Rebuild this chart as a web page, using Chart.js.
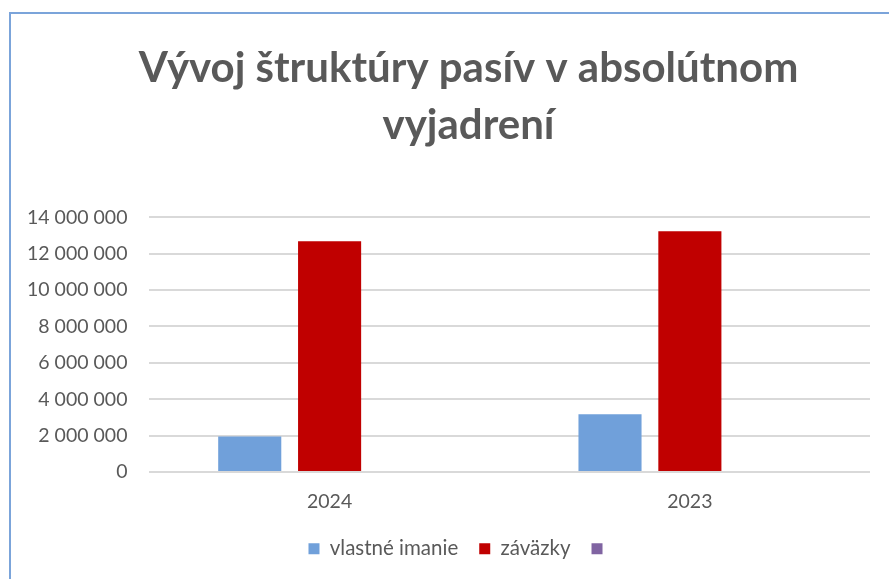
<!DOCTYPE html>
<html>
<head>
<meta charset="utf-8">
<script src="https://cdn.jsdelivr.net/npm/chart.js@4/dist/chart.umd.min.js"></script>
<style>
  html, body { margin: 0; padding: 0; background: #fff; overflow: hidden; }
  #frame {
    position: absolute; left: 9px; top: 12px; width: 900px; height: 600px;
    border-left: 2px solid #7ba4da; border-top: 2px solid #7ba4da;
  }
  #wrap { position: absolute; left: 0; top: 0; width: 998px; height: 579px; }
</style>
</head>
<body>
<div id="frame"></div>
<div id="wrap"><canvas id="chart"></canvas></div>
<script>
const categories = ["2024", "2023"]
const equity = [1950000, 3180000]
const liabilities = [12680000, 13230000]
const other = [null, null]
const seriesNames = ["vlastné imanie", "záväzky", ""]
const titleLines = ["Vývoj štruktúry pasív v absolútnom", "vyjadrení"]

const colors = {
    blue: "#70a0da",
    red: "#c00000",
    purple: "#8064a2",
    text: "#595959",
    grid: "#d9d9d9",
}

const fmt = (v) => String(v).replace(/\B(?=(\d{3})+(?!\d))/g, " ")

const ctx = document.getElementById("chart").getContext("2d")
new Chart(ctx, {
    type: "bar",
    data: {
        labels: categories,
        datasets: [
            { label: seriesNames[0], data: equity, backgroundColor: colors.blue },
            { label: seriesNames[1], data: liabilities, backgroundColor: colors.red },
            { label: seriesNames[2], data: other, backgroundColor: colors.purple },
        ],
    },
    options: {
        responsive: true,
        maintainAspectRatio: false,
        animation: false,
        datasets: {
            bar: { categoryPercentage: 0.665, barPercentage: 0.79 },
        },
        layout: { padding: { left: 5, right: 66, top: 40, bottom: 10 } },
        plugins: {
            title: {
                display: true,
                text: titleLines,
                color: colors.text,
                font: { family: "Lato", size: 42, weight: "bold", lineHeight: 1.36 },
                padding: { top: 0, bottom: 63 },
            },
            legend: {
                position: "bottom",
                labels: {
                    color: colors.text,
                    font: { family: "Lato", size: 20.5 },
                    boxWidth: 11,
                    boxHeight: 11,
                    padding: 21,
                    generateLabels: (chart) => {
                        const items = Chart.defaults.plugins.legend.labels.generateLabels(chart)
                        items[2].text = "   "
                        return items
                    },
                },
            },
            tooltip: { enabled: false },
        },
        scales: {
            x: {
                afterFit: (scale) => { scale.height -= 6 },
                grid: { display: false },
                border: { display: false },
                ticks: { color: colors.text, font: { family: "Lato", size: 19.5 }, padding: 10 },
            },
            y: {
                min: 0,
                max: 14000000,
                grid: { color: colors.grid, lineWidth: 2, drawTicks: false },
                border: { display: false },
                ticks: {
                    stepSize: 2000000,
                    color: colors.text,
                    font: { family: "Lato", size: 19.5 },
                    padding: 22,
                    callback: (v) => fmt(v),
                },
            },
            // empty spacer on the right: the original chart box runs past the picture edge
            spacer: {
                type: "linear",
                position: "right",
                grid: { display: false },
                border: { display: false },
                ticks: { display: false },
                afterFit: (scale) => { scale.width = 62 },
            },
        },
    },
})
</script>
</body>
</html>
